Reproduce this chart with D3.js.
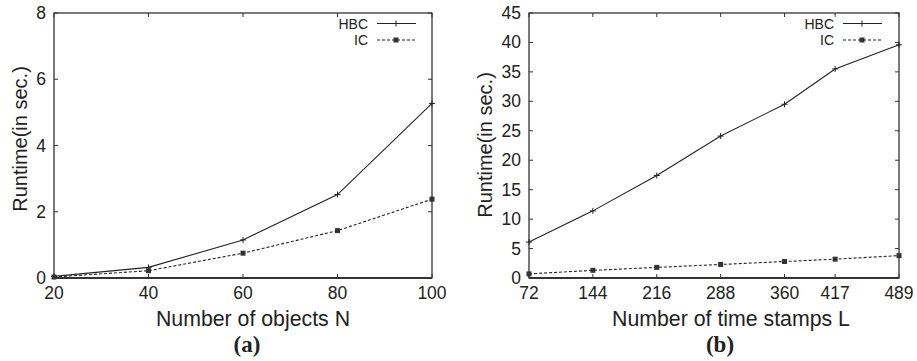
<!DOCTYPE html>
<html>
<head>
<meta charset="utf-8">
<script src="https://cdn.jsdelivr.net/npm/d3@7"></script>
<style>
  body { margin: 0; background: #fff; }
  svg { display: block; }
  text { font-family: "Liberation Sans", Arial, Helvetica, sans-serif; fill: #222; }
</style>
</head>
<body>
<svg id="chart" width="917" height="361"></svg>
<script>
// panel (a)
const objectsN = [20, 40, 60, 80, 100]
const hbcA = [0.05, 0.32, 1.15, 2.52, 5.27]
const icA = [0.03, 0.22, 0.75, 1.43, 2.38]
const yTicksA = [0, 2, 4, 6, 8]

// panel (b)
const stampsL = [72, 144, 216, 288, 360, 417, 489]
const hbcB = [6.1, 11.4, 17.4, 24.1, 29.5, 35.5, 39.6]
const icB = [0.7, 1.3, 1.8, 2.3, 2.8, 3.2, 3.8]
const yTicksB = [0, 5, 10, 15, 20, 25, 30, 35, 40, 45]

const svg = d3.select('#chart')

function panel(opt) {
    const g = svg.append('g')
    const x = d3.scaleLinear().domain(opt.xDomain).range([opt.left, opt.right])
    const y = d3.scaleLinear().domain(opt.yDomain).range([opt.bottom, opt.top])

    // frame
    g.append('rect')
        .attr('x', opt.left).attr('y', opt.top)
        .attr('width', opt.right - opt.left).attr('height', opt.bottom - opt.top)
        .attr('fill', 'none').attr('stroke', '#222').attr('stroke-width', 1.2)
    g.append('line')
        .attr('x1', opt.left).attr('x2', opt.right)
        .attr('y1', opt.bottom).attr('y2', opt.bottom)
        .attr('stroke', '#333').attr('stroke-width', 2)

    // inward ticks, mirrored
    const tl = 4
    opt.xTicks.forEach(t => {
        g.append('line').attr('x1', x(t)).attr('x2', x(t))
            .attr('y1', opt.bottom).attr('y2', opt.bottom - tl)
            .attr('stroke', '#333').attr('stroke-width', 1)
        g.append('line').attr('x1', x(t)).attr('x2', x(t))
            .attr('y1', opt.top).attr('y2', opt.top + tl)
            .attr('stroke', '#333').attr('stroke-width', 1)
        g.append('text').attr('x', x(t)).attr('y', opt.bottom + 21)
            .attr('text-anchor', 'middle').attr('font-size', 17.5).text(t)
    })
    opt.yTicks.forEach(t => {
        g.append('line').attr('x1', opt.left).attr('x2', opt.left + tl)
            .attr('y1', y(t)).attr('y2', y(t))
            .attr('stroke', '#333').attr('stroke-width', 1)
        g.append('line').attr('x1', opt.right).attr('x2', opt.right - tl)
            .attr('y1', y(t)).attr('y2', y(t))
            .attr('stroke', '#333').attr('stroke-width', 1)
        g.append('text').attr('x', opt.left - 8).attr('y', y(t) + 6)
            .attr('text-anchor', 'end').attr('font-size', 17.5).text(t)
    })

    const line = d3.line().x(d => x(d[0])).y(d => y(d[1]))
    const hbc = opt.xs.map((v, i) => [v, opt.hbc[i]])
    const ic = opt.xs.map((v, i) => [v, opt.ic[i]])

    g.append('path').attr('d', line(hbc))
        .attr('fill', 'none').attr('stroke', '#222').attr('stroke-width', 1.1)
    g.append('path').attr('d', line(ic))
        .attr('fill', 'none').attr('stroke', '#222').attr('stroke-width', 1.1)
        .attr('stroke-dasharray', '3 2')

    // markers
    hbc.forEach(d => plus(g, x(d[0]), y(d[1])))
    ic.forEach(d => box(g, x(d[0]), y(d[1])))

    // legend
    const lx = opt.legendX
    g.append('text').attr('x', lx).attr('y', 28.5).attr('text-anchor', 'end')
        .attr('font-size', 14).text('HBC')
    g.append('line').attr('x1', lx + 9).attr('x2', lx + 48).attr('y1', 23.5).attr('y2', 23.5)
        .attr('stroke', '#222').attr('stroke-width', 1.1)
    plus(g, lx + 28, 23.5)
    g.append('text').attr('x', lx).attr('y', 45).attr('text-anchor', 'end')
        .attr('font-size', 14).text('IC')
    g.append('line').attr('x1', lx + 9).attr('x2', lx + 48).attr('y1', 40).attr('y2', 40)
        .attr('stroke', '#222').attr('stroke-width', 1.1).attr('stroke-dasharray', '3 2')
    box(g, lx + 28, 40)

    // titles
    g.append('text')
        .attr('transform', `translate(${opt.yTitleX},${opt.yTitleY}) rotate(-90)`)
        .attr('text-anchor', 'middle').attr('font-size', 20).text('Runtime(in sec.)')
    g.append('text').attr('x', opt.xTitleX).attr('y', 326)
        .attr('text-anchor', 'middle').attr('font-size', 21.3).text(opt.xTitle)
    g.append('text').attr('x', opt.tagX).attr('y', 352)
        .attr('text-anchor', 'middle').attr('font-size', 23).attr('font-weight', 'bold')
        .style('font-family', '"Liberation Serif", "Times New Roman", serif')
        .text(opt.tag)
}

function plus(g, cx, cy) {
    g.append('path').attr('d', `M${cx - 3},${cy}H${cx + 3}M${cx},${cy - 3}V${cy + 3}`)
        .attr('stroke', '#222').attr('stroke-width', 1)
}
function box(g, cx, cy) {
    g.append('rect').attr('x', cx - 2.5).attr('y', cy - 2.5).attr('width', 5).attr('height', 5)
        .attr('fill', '#333')
}

panel({
    left: 54, right: 432, top: 13, bottom: 278,
    xDomain: [20, 100], yDomain: [0, 8],
    xTicks: objectsN, yTicks: yTicksA,
    xs: objectsN, hbc: hbcA, ic: icA,
    legendX: 368, yTitleX: 27, yTitleY: 139, xTitleX: 253, xTitle: 'Number of objects N',
    tagX: 247, tag: '(a)'
})

panel({
    left: 529, right: 899, top: 13, bottom: 278,
    xDomain: [72, 489], yDomain: [0, 45],
    xTicks: stampsL, yTicks: yTicksB,
    xs: stampsL, hbc: hbcB, ic: icB,
    legendX: 834, yTitleX: 492, yTitleY: 145, xTitleX: 731, xTitle: 'Number of time stamps L',
    tagX: 720, tag: '(b)'
})
</script>
</body>
</html>
